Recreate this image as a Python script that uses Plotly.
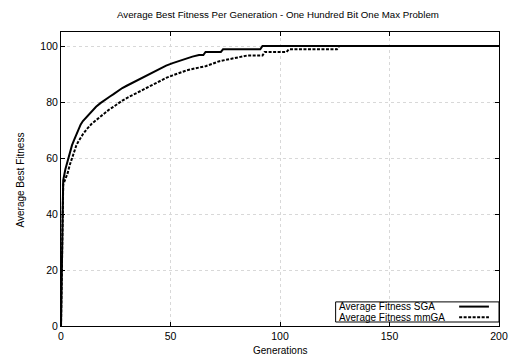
import plotly.graph_objects as go

title = "Average Best Fitness Per Generation - One Hundred Bit One Max Problem"
x_title = "Generations"
y_title = "Average Best Fitness"
series_names = ["Average Fitness SGA", "Average Fitness mmGA"]

sga_gen = [0, 1, 2, 3, 4, 5, 6, 7, 8, 9, 10, 12, 14, 16, 18, 20, 22, 24, 26, 28, 30,
           33, 36, 39, 42, 45, 48, 51, 54, 57, 60, 63, 65, 66, 73, 74, 91, 92, 200]
sga_fit = [0, 52, 56, 59, 62, 64.5, 66.5, 68.5, 70.3, 72, 73.2, 75, 76.8, 78.3, 79.6, 80.8, 81.8, 82.8, 84, 85, 85.8,
           87, 88.3, 89.5, 90.8, 91.8, 93, 93.9, 94.7, 95.5, 96.2, 96.8, 96.8, 97.9, 97.9, 98.8, 98.8, 100, 100]

mm_gen = [0, 1, 2, 3, 4, 5, 6, 7, 8, 9, 10, 12, 14, 16, 18, 20, 22, 24, 26, 28, 30,
          33, 36, 39, 42, 45, 48, 51, 54, 57, 60, 63, 66, 69, 72, 75, 78, 82, 85, 92, 93, 103, 104, 126, 127, 200]
mm_fit = [0, 50.5, 52.5, 54.5, 57.5, 60, 62.5, 64.5, 66, 67.3, 68.5, 70.5, 72.2, 73.5, 74.8, 76, 77.3, 78.3, 79.5, 80.5, 81.4,
          82.6, 84, 85.2, 86.3, 87.5, 88.6, 89.5, 90.4, 91.2, 91.8, 92.2, 92.8, 93.6, 94.5, 95, 95.5, 96, 96.6, 96.6, 97.9, 97.9, 98.8, 98.8, 100, 100]

x_ticks = [0, 50, 100, 150, 200]
y_ticks = [0, 20, 40, 60, 80, 100]

FONT = "Liberation Sans, Arial, Helvetica, sans-serif"

fig = go.Figure()
fig.add_trace(go.Scatter(x=sga_gen, y=sga_fit, mode="lines", name=series_names[0],
                         line=dict(color="black", width=2), showlegend=False))
fig.add_trace(go.Scatter(x=mm_gen, y=mm_fit, mode="lines", name=series_names[1],
                         line=dict(color="black", width=2, dash="3px,1.5px"), showlegend=False))

axis_common = dict(showline=True, linecolor="black", linewidth=1, mirror="allticks",
                   ticks="inside", ticklen=4, tickcolor="black", tickwidth=1,
                   showgrid=True, gridcolor="#d8d8d8", griddash="dot", gridwidth=1,
                   zeroline=False, automargin=False, ticklabeloverflow="allow",
                   tickfont=dict(family=FONT, size=10.5, color="black"))

fig.update_xaxes(range=[0, 200], tickvals=x_ticks, **axis_common)
fig.update_yaxes(range=[0, 105], tickvals=y_ticks, **axis_common)

# axis titles
fig.add_annotation(x=0.5, y=-0.085, xref="paper", yref="paper", text=x_title, showarrow=False,
                   xanchor="center", yanchor="middle", font=dict(family=FONT, size=10, color="black"))
fig.add_annotation(x=-0.0936, y=0.495, xref="paper", yref="paper", text=y_title, showarrow=False,
                   textangle=-90, xanchor="center", yanchor="middle",
                   font=dict(family=FONT, size=10, color="black"))

# manual legend (text left, sample right), gnuplot style
fig.add_shape(type="rect", xref="paper", yref="paper", x0=0.627, x1=1.0, y0=0.0136, y1=0.082,
              line=dict(color="black", width=1), fillcolor="white", layer="above")
for i, (name, dash) in enumerate(zip(series_names, ["solid", "3px,1.5px"])):
    yy = 0.066 - i * 0.036
    fig.add_annotation(x=0.63, y=yy, xref="paper", yref="paper", text=name, showarrow=False,
                       xanchor="left", yanchor="middle", font=dict(family=FONT, size=10, color="black"))
    fig.add_shape(type="line", xref="paper", yref="paper", x0=0.909, x1=0.977, y0=yy, y1=yy,
                  line=dict(color="black", width=2, dash=dash), layer="above")

fig.update_layout(
    width=510, height=356,
    margin=dict(l=61, r=11, t=32, b=30, autoexpand=False),
    paper_bgcolor="white", plot_bgcolor="white",
    title=dict(text=title, x=0.545, xanchor="center", xref="container",
               y=0.958, yanchor="middle", yref="container",
               font=dict(family=FONT, size=9.7, color="black"), automargin=False),
    showlegend=False,
)

# remove the default 8px page margin so the 510x356 figure fills the window exactly
fig.write_html("out.html", config={"displayModeBar": False},
               post_script="document.body.style.margin='0';document.body.style.overflow='hidden';")
